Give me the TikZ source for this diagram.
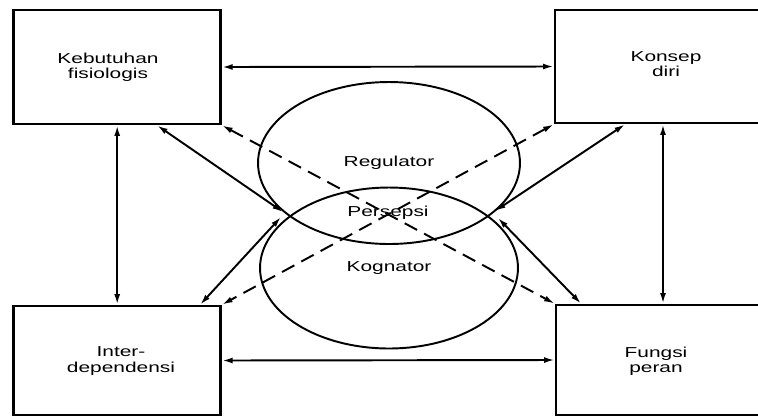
\documentclass[tikz,border=0pt]{standalone}
\usepackage{fontspec}
\setmainfont{Liberation Sans}[FakeStretch=1.45]
\usetikzlibrary{arrows.meta,shapes.geometric,calc}
\begin{document}
\begin{tikzpicture}[x=0.02cm,y=-0.02cm,
  every node/.style={font=\fontsize{8.2pt}{8.6pt}\selectfont},
  boxnode/.style={draw,line width=1.6pt,rectangle,inner sep=0pt,minimum width=#1},
  boxnode/.default={4.14cm},
  txt/.style={align=center,inner sep=0pt},
  oval/.style={draw,line width=1.1pt,ellipse,inner sep=0pt},
  dbl/.style={line width=1.1pt,{Latex[length=6pt,width=3.4pt]}-{Latex[length=6pt,width=3.4pt]}},
  dsh/.style={dbl,dash pattern=on 8pt off 4.5pt}]
\clip (0,0) rectangle (758,417);
% boxes
\node[boxnode,minimum height=2.28cm] (tl) at (117.2,67) {};
\node[boxnode=4.4cm,minimum height=2.26cm] (tr) at (665,66.5) {};
\node[boxnode,minimum height=2.18cm] (bl) at (117.2,360.5) {};
\node[boxnode=4.4cm,minimum height=2.2cm] (br) at (666,360) {};
% texts
\node[txt] (tlt) at (108,67) {Kebutuhan\\fisiologis};
\node[txt] (trt) at (666,64) {Konsep\\diri};
\node[txt] (blt) at (121,361) {Inter-\\dependensi};
\node[txt] (brt) at (656,361) {Fungsi\\peran};
% ellipses
\node[oval,minimum width=5.24cm,minimum height=3.24cm] (reg) at (389,163) {Regulator};
\node[oval,minimum width=5.16cm,minimum height=3.22cm] (kog) at (389,268) {Kognator};
\node[txt] (per) at (388,213) {Persepsi};
% inner ends
\coordinate (ul) at (283,212);
\coordinate (ll) at (281,217);
\coordinate (ur) at (495,211);
\coordinate (lr) at (498,218);
% connectors
\draw[dbl] (tl.east) -- (tr.west);
\draw[dbl] (bl.east) -- (br.west);
\draw[dbl] (tl.south) -- (bl.north);
\draw[dbl] ($(tr.south)+(-2,0)$) -- ($(br.north)+(-3,0)$);
\draw[dbl] ($(tl.south)+(40,0)$) -- (ul);
\draw[dbl] ($(bl.north)+(83,0)$) -- (ll);
\draw[dbl] ($(tr.south)+(-40,0)$) -- (ur);
\draw[dbl] ($(br.north)+(-85,0)$) -- (lr);
\draw[dsh] (tl.south east) -- (br.north west);
\draw[dsh] (tr.south west) -- (bl.north east);
\end{tikzpicture}
\end{document}
